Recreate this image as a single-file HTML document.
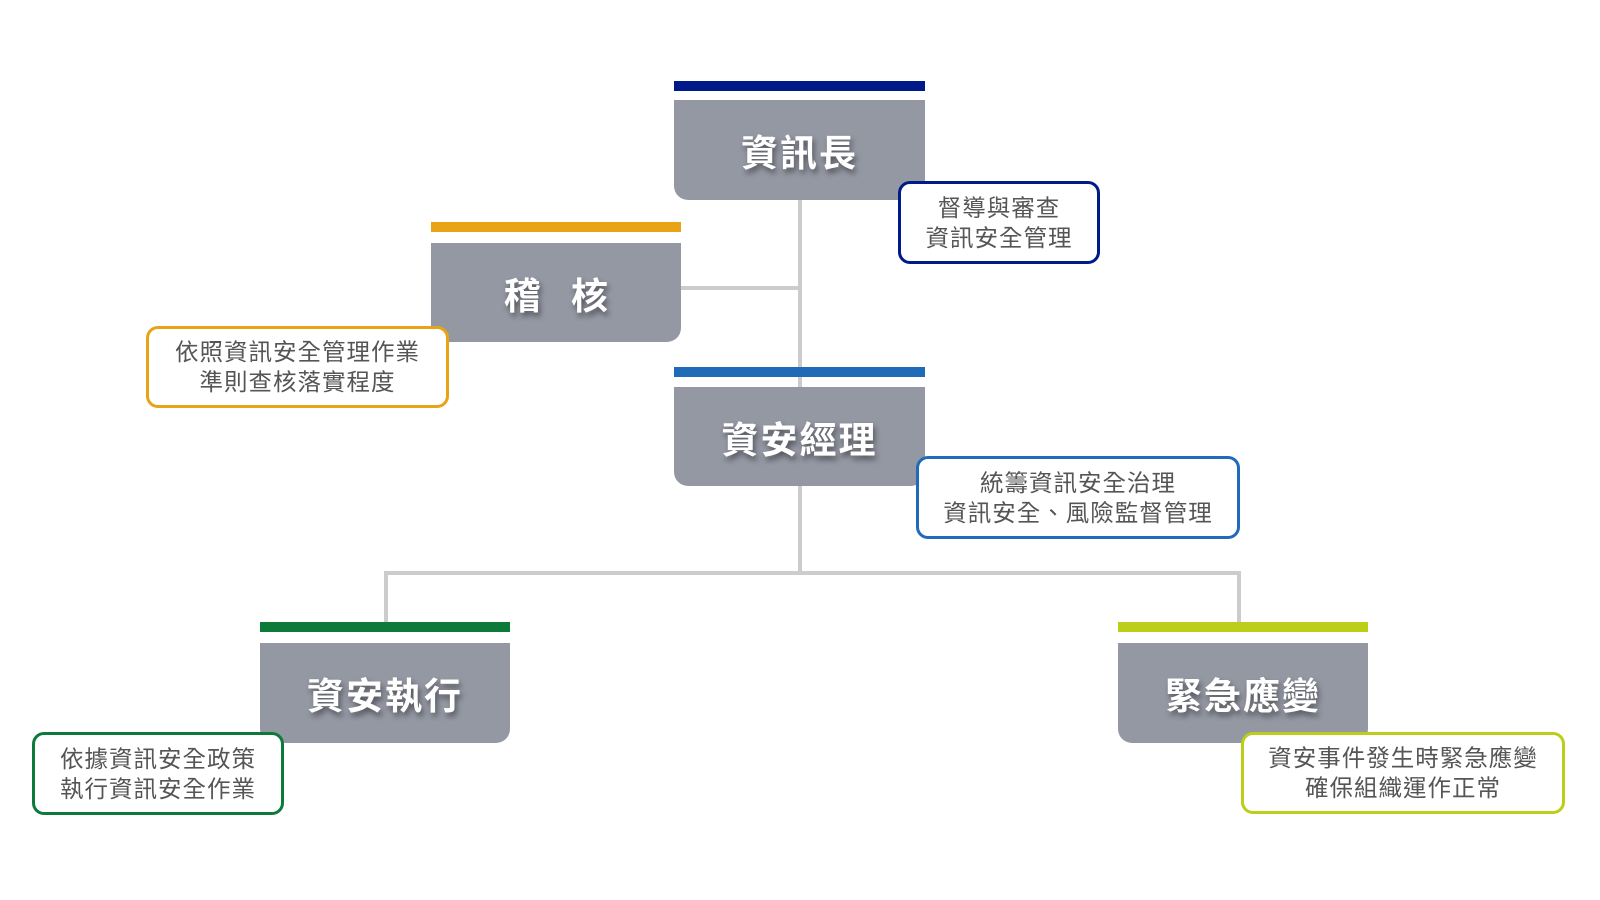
<!DOCTYPE html>
<html><head><meta charset="utf-8"><style>
body{margin:0;width:1600px;height:900px;background:#fff;position:relative;overflow:hidden;font-family:"Liberation Sans","Noto Sans CJK TC",sans-serif}
.bar{position:absolute;height:10px}
.box{position:absolute;background:#9498a3;border-bottom-left-radius:14px;border-bottom-right-radius:14px;color:#fff;font-weight:bold;font-size:37px;display:flex;align-items:center;justify-content:center;text-shadow:2px 4px 6px rgba(0,0,0,.45);letter-spacing:2px}
.c{position:absolute;background:#fff;border:3px solid;border-radius:12px;box-sizing:border-box;color:#555;font-size:23.5px;line-height:30px;text-align:center;display:flex;align-items:center;justify-content:center;letter-spacing:1px}
.l{position:absolute;background:#cccccc}
</style></head><body>
<div class="l" style="left:798px;top:200px;width:4px;height:374px"></div>
<div class="l" style="left:681px;top:286px;width:119px;height:4px"></div>
<div class="l" style="left:384px;top:571px;width:857px;height:4px"></div>
<div class="l" style="left:384px;top:571px;width:4px;height:52px"></div>
<div class="l" style="left:1237px;top:571px;width:4px;height:52px"></div>

<div class="bar" style="left:674px;top:81px;width:251px;background:#001a8a"></div>
<div class="box" style="left:674px;top:100px;width:251px;height:100px">資訊長</div>
<div class="bar" style="left:431px;top:222px;width:250px;background:#e8a317"></div>
<div class="box" style="left:431px;top:243px;width:250px;height:99px;letter-spacing:30px;padding-left:30px;box-sizing:border-box">稽核</div>
<div class="bar" style="left:674px;top:367px;width:251px;background:#1f6bb8"></div>
<div class="box" style="left:674px;top:387px;width:251px;height:99px">資安經理</div>
<div class="bar" style="left:260px;top:622px;width:250px;background:#0e7a3a"></div>
<div class="box" style="left:260px;top:643px;width:250px;height:100px">資安執行</div>
<div class="bar" style="left:1118px;top:622px;width:250px;background:#bccd1a"></div>
<div class="box" style="left:1118px;top:643px;width:250px;height:100px">緊急應變</div>

<div class="c" style="left:898px;top:181px;width:202px;height:83px;border-color:#001a8a">督導與審查<br>資訊安全管理</div>
<div class="c" style="left:146px;top:326px;width:303px;height:82px;border-color:#e8a317">依照資訊安全管理作業<br>準則查核落實程度</div>
<div class="c" style="left:916px;top:456px;width:324px;height:83px;border-color:#1f6bb8">統籌資訊安全治理<br>資訊安全、風險監督管理</div>
<div class="c" style="left:32px;top:732px;width:252px;height:83px;border-color:#0e7a3a">依據資訊安全政策<br>執行資訊安全作業</div>
<div class="c" style="left:1241px;top:732px;width:324px;height:82px;border-color:#bccd1a">資安事件發生時緊急應變<br>確保組織運作正常</div>
</body></html>
